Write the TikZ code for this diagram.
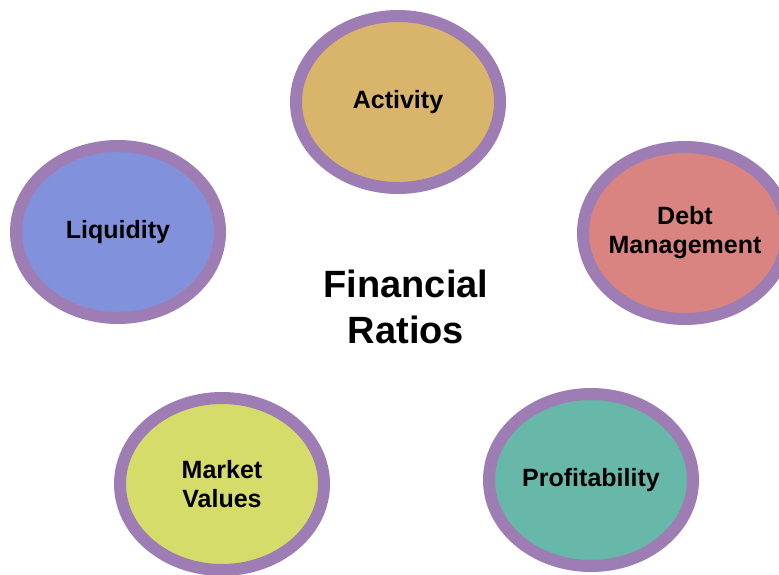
\documentclass[tikz,border=0pt]{standalone}
\usepackage{fontspec}
\setmainfont{Liberation Sans}
\usepackage{xcolor}
\usepackage{tikz}
\usetikzlibrary{
    calc,
    shapes.geometric,
    shadows
}
\definecolor{rim}{HTML}{9D7DB3}
\definecolor{actfill}{HTML}{D9B56B}
\definecolor{liqfill}{HTML}{8291DB}
\definecolor{debtfill}{HTML}{DA8482}
\definecolor{mktfill}{HTML}{D5DC6A}
\definecolor{proffill}{HTML}{67B8A8}
\tikzset{%
    ring/.style={%
        ellipse, draw=rim, line width=12pt, inner sep=0pt,
        minimum width=204pt, minimum height=172pt,
        drop shadow={opacity=0.18, shadow xshift=0pt, shadow yshift=-3pt}
    },
    lbl/.style={%
        font=\fontsize{25}{29}\selectfont\bfseries, align=center, text=black
    }
}

\begin{document}
\begin{tikzpicture}[x=1pt, y=-1pt]
        \useasboundingbox (0,0) rectangle (779,575);
        \clip (0,0) rectangle (779,575);
        \draw (398,102) node[ring, fill=actfill,  label={[lbl]center:Activity}](ac){};
        \draw (118,232) node[ring, fill=liqfill,  label={[lbl]center:Liquidity}](lq){};
        \draw (685,233) node[ring, fill=debtfill, label={[lbl]center:Debt\\Management}](dm){};
        \draw (222,484) node[ring, fill=mktfill,  label={[lbl]center:Market\\Values}](mv){};
        \draw (591,480) node[ring, fill=proffill, label={[lbl]center:Profitability}](pr){};

        \draw (406,307) node[align=center, font=\fontsize{38}{46}\selectfont\bfseries](ct){Financial\\Ratios};
    \end{tikzpicture}
\end{document}
